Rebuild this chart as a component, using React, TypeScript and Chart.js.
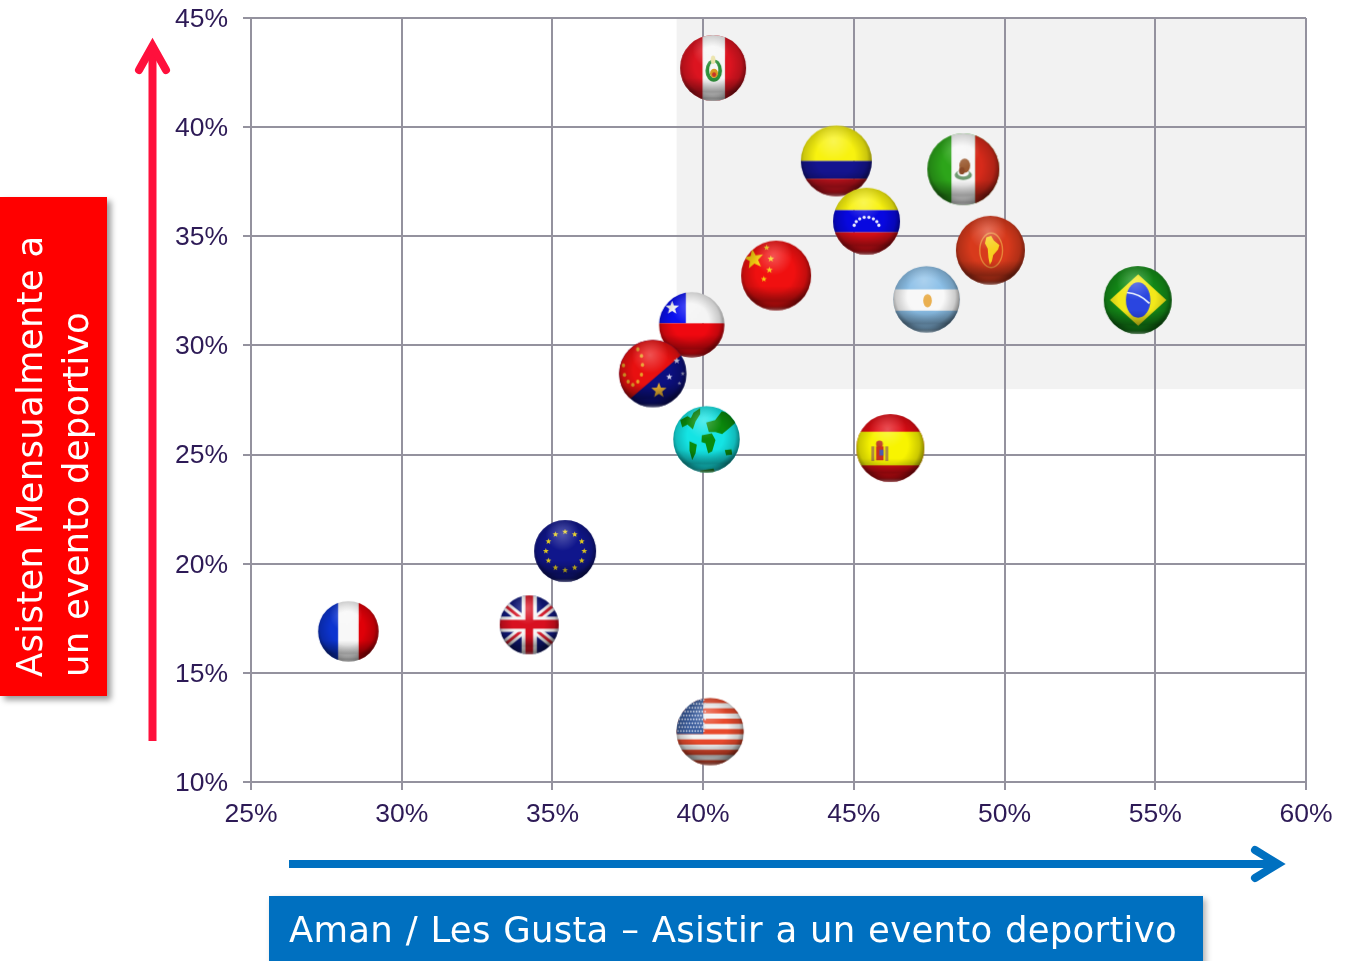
import React, { useEffect, useRef } from "react";
import { Chart, registerables } from "chart.js";

Chart.register(...registerables);

// ---- data (percent) ----
const countries = ["Peru", "Colombia", "Mexico", "Venezuela", "China", "Latam", "Argentina", "Brazil", "Chile", "AsiaPacific", "World", "Spain", "EU", "France", "UK", "USA"];
const interest = [40.33, 44.42, 48.63, 45.42, 42.42, 49.53, 47.41, 54.42, 39.62, 38.33, 40.11, 46.21, 35.42, 28.23, 34.23, 40.23];
const attendance = [42.71, 38.45, 38.07, 35.69, 33.2, 34.36, 32.11, 32.08, 30.94, 28.71, 25.7, 25.3, 20.58, 16.9, 17.2, 12.31];
const xTicks = [25, 30, 35, 40, 45, 50, 55, 60];
const yTicks = [10, 15, 20, 25, 30, 35, 40, 45];
const highlightFromX = 39.12;
const highlightFromY = 28;

const yTitleLines = ["Asisten Mensualmente a", "un evento deportivo"];
const xTitle = "Aman / Les Gusta – Asistir a un evento deportivo";

// ---- marker look ----
const flagRadius: Record<string, number> = {
  Peru: 33, Colombia: 35.5, Mexico: 36, Venezuela: 33.5, China: 35, Latam: 34.5, Argentina: 33.3, Brazil: 34,
  Chile: 32.7, AsiaPacific: 33.7, World: 33.3, Spain: 34, EU: 31, France: 30.3, UK: 29.5, USA: 33.7,
};

type C = CanvasRenderingContext2D;
const box = (c: C, col: string, x0: number, y0: number, x1: number, y1: number) => {
  c.fillStyle = col;
  c.fillRect(x0, y0, x1 - x0, y1 - y0);
};
const star = (c: C, x: number, y: number, R: number, col: string, rot = 0) => {
  c.fillStyle = col;
  c.beginPath();
  for (let i = 0; i < 10; i++) {
    const a = -Math.PI / 2 + rot + (i * Math.PI) / 5;
    const q = i % 2 ? R * 0.42 : R;
    c.lineTo(x + q * Math.cos(a), y + q * Math.sin(a));
  }
  c.closePath();
  c.fill();
};
const poly = (c: C, col: string, pts: number[][]) => {
  c.fillStyle = col;
  c.beginPath();
  pts.forEach((p) => c.lineTo(p[0], p[1]));
  c.closePath();
  c.fill();
};
const oval = (c: C, col: string, x: number, y: number, rx: number, ry: number, rot = 0) => {
  c.fillStyle = col;
  c.beginPath();
  c.ellipse(x, y, rx, ry, rot, 0, Math.PI * 2);
  c.fill();
};

const painters: Record<string, (c: C) => void> = {
  Peru(c) {
    box(c, "#dc1420", -1, -1, 1, 1);
    box(c, "#f6f6f6", -0.32, -1, 0.36, 1);
    oval(c, "#2f8f3a", 0.02, 0.08, 0.25, 0.34);
    oval(c, "#f6f6f6", 0.02, 0.06, 0.14, 0.24);
    oval(c, "#d99a20", 0.03, 0.16, 0.12, 0.14);
    oval(c, "#c8352a", 0.03, 0.2, 0.06, 0.07);
    oval(c, "#e8e0a0", 0.0, -0.25, 0.07, 0.13);
  },
  Colombia(c) {
    box(c, "#f8f20f", -1, -1, 1, 0);
    box(c, "#14148f", -1, 0, 1, 0.5);
    box(c, "#d81420", -1, 0.5, 1, 1);
  },
  Mexico(c) {
    box(c, "#2da51a", -1, -1, 1, 1);
    box(c, "#f6f6f6", -0.33, -1, 0.33, 1);
    box(c, "#d62a1a", 0.33, -1, 1, 1);
    oval(c, "#6f9a70", 0, 0.16, 0.24, 0.14);
    oval(c, "#f6f6f6", 0, 0.1, 0.16, 0.1);
    oval(c, "#9a5a30", 0.04, -0.1, 0.15, 0.2);
    oval(c, "#8a4a28", -0.04, 0.04, 0.08, 0.1);
  },
  Venezuela(c) {
    box(c, "#f8f20f", -1, -1, 1, -0.33);
    box(c, "#0808e0", -1, -0.33, 1, 0.33);
    box(c, "#e01018", -1, 0.33, 1, 1);
    for (let i = 0; i < 8; i++) {
      const a = Math.PI * (1.08 + (i * 0.84) / 7);
      oval(c, "#eef", 0.38 * Math.cos(a), 0.2 + 0.38 * Math.sin(a) * 0.85, 0.05, 0.05);
    }
  },
  China(c) {
    box(c, "#f01010", -1, -1, 1, 1);
    star(c, -0.64, -0.47, 0.3, "#f8d010", -0.15);
    star(c, -0.27, -0.8, 0.09, "#f8d010");
    star(c, -0.15, -0.48, 0.1, "#f8d010");
    star(c, -0.19, -0.16, 0.1, "#f8d010");
    star(c, -0.35, 0.1, 0.09, "#f8d010");
  },
  Latam(c) {
    box(c, "#d83a1c", -1, -1, 1, 1);
    c.strokeStyle = "#e8883a";
    c.lineWidth = 0.04;
    c.beginPath();
    c.ellipse(0.02, 0, 0.33, 0.5, 0, 0, Math.PI * 2);
    c.stroke();
    poly(c, "#f8d020", [[-0.12, -0.38], [0.02, -0.42], [0.1, -0.28], [0.26, -0.15], [0.22, -0.02], [0.08, 0.14], [0.04, 0.32], [-0.02, 0.42], [-0.06, 0.2], [-0.08, -0.05], [-0.16, -0.2]]);
  },
  Argentina(c) {
    box(c, "#8cc0e8", -1, -1, 1, 1);
    box(c, "#f8f8f8", -1, -0.3, 1, 0.34);
    oval(c, "#eab050", 0.03, 0.04, 0.13, 0.2);
  },
  Brazil(c) {
    box(c, "#148c18", -1, -1, 1, 1);
    poly(c, "#f2e81a", [[-0.82, 0], [0.01, -0.76], [0.84, 0], [0.01, 0.76]]);
    oval(c, "#2a45e0", 0.01, 0, 0.36, 0.52);
    c.strokeStyle = "#e8f0ff";
    c.lineWidth = 0.05;
    c.beginPath();
    c.moveTo(-0.32, -0.22);
    c.quadraticCurveTo(0.05, -0.2, 0.34, 0.1);
    c.stroke();
  },
  Chile(c) {
    box(c, "#f4f4f4", -1, -1, 1, -0.05);
    box(c, "#0a10f0", -1, -1, -0.18, -0.05);
    box(c, "#f00810", -1, -0.05, 1, 1);
    star(c, -0.6, -0.52, 0.22, "#ffffff");
  },
  AsiaPacific(c) {
    box(c, "#0c1080", -1, -1, 1, 1);
    poly(c, "#e81010", [[-1.2, -1.2], [1.6, -1.2], [-1.2, 1.2]]);
    const ring = [[113, 208], [124, 228], [127, 255], [124, 284], [113, 305], [98, 315], [84, 305], [73, 285], [70, 256]];
    ring.forEach((p) => oval(c, "#e8a028", (p[0] - 158) / 101, (p[1] - 281) / 101, 0.05, 0.06));
    star(c, 0.18, 0.5, 0.24, "#e8b030");
    star(c, 0.49, 0.1, 0.1, "#d8d8f0");
    star(c, 0.71, -0.38, 0.1, "#d8d8f0");
    star(c, 0.89, 0, 0.07, "#a8a8d0");
    star(c, 0.79, 0.29, 0.06, "#a8a8d0");
  },
  World(c) {
    box(c, "#14e4e4", -1, -1, 1, 1);
    const g = "#0a8a0c";
    const u = (pts: number[][]) => pts.map((p) => [(p[0] - 319) / 100, (p[1] - 478) / 100]);
    poly(c, g, u([[240, 420], [262, 408], [272, 414], [280, 398], [300, 384], [300, 402], [286, 425], [278, 448], [262, 434], [246, 442]]));
    poly(c, g, u([[268, 484], [290, 494], [286, 520], [276, 540], [268, 512]]));
    poly(c, g, u([[305, 466], [335, 460], [346, 480], [336, 514], [324, 520], [316, 490], [304, 486]]));
    poly(c, g, u([[318, 428], [345, 420], [365, 394], [396, 402], [410, 425], [386, 446], [366, 462], [346, 456], [326, 456]]));
    poly(c, g, u([[374, 510], [394, 508], [396, 524], [378, 526]]));
    poly(c, g, u([[300, 572], [340, 566], [350, 590], [300, 590]]));
  },
  Spain(c) {
    box(c, "#e00c14", -1, -1, 1, 1);
    box(c, "#f8f400", -1, -0.48, 1, 0.51);
    oval(c, "#c04028", -0.32, -0.12, 0.1, 0.1);
    box(c, "#c83020", -0.42, -0.05, -0.2, 0.36);
    box(c, "#4a5ab0", -0.32, 0.05, -0.2, 0.22);
    box(c, "#b08a40", -0.56, -0.05, -0.47, 0.38);
    box(c, "#b08a40", -0.15, -0.05, -0.06, 0.38);
  },
  EU(c) {
    box(c, "#10168c", -1, -1, 1, 1);
    for (let i = 0; i < 12; i++) {
      const a = (i * Math.PI) / 6;
      star(c, 0.62 * Math.cos(a), 0.62 * Math.sin(a), 0.1, "#e8d020");
    }
  },
  France(c) {
    box(c, "#0c34d0", -1, -1, -0.33, 1);
    box(c, "#f8f8f8", -0.33, -1, 0.34, 1);
    box(c, "#e00008", 0.34, -1, 1, 1);
  },
  UK(c) {
    box(c, "#10187c", -1, -1, 1, 1);
    c.lineCap = "butt";
    const diag = (col: string, w: number) => {
      c.strokeStyle = col;
      c.lineWidth = w;
      c.beginPath();
      c.moveTo(-1, -0.8);
      c.lineTo(1, 0.8);
      c.moveTo(-1, 0.8);
      c.lineTo(1, -0.8);
      c.stroke();
    };
    diag("#f6f6f6", 0.3);
    diag("#d82030", 0.1);
    box(c, "#f6f6f6", -0.26, -1, 0.26, 1);
    box(c, "#f6f6f6", -1, -0.28, 1, 0.24);
    box(c, "#d81020", -0.13, -1, 0.13, 1);
    box(c, "#d81020", -1, -0.17, 1, 0.13);
  },
  USA(c) {
    box(c, "#f4f4f4", -1, -1, 1, 1);
    for (let i = 0; i < 13; i += 2) box(c, "#e84a2c", -1, -1 + (i * 2) / 13, 1, -1 + ((i + 1) * 2) / 13);
    box(c, "#3a5c9c", -1, -1, -0.2, 0.07);
    for (let row = 0; row < 9; row++)
      for (let col = 0; col < 10; col++)
        oval(c, "#dfe6f6", -0.95 + col * 0.085 + (row % 2 ? 0.04 : 0), -0.94 + row * 0.115, 0.025, 0.025);
  },
};

const makeFlag = (name: string) => {
  const r = flagRadius[name];
  const pad = 1;
  const size = Math.ceil(r * 2 + pad * 2);
  const cv = document.createElement("canvas");
  cv.width = size;
  cv.height = size;
  const c = cv.getContext("2d") as C;
  c.translate(size / 2, size / 2);
  c.scale(r, r);
  c.beginPath();
  c.arc(0, 0, 1, 0, Math.PI * 2);
  c.clip();
  painters[name](c);
  // sphere shading
  let g = c.createRadialGradient(-0.03, -0.1, 0.55, -0.03, -0.1, 1.12);
  g.addColorStop(0, "rgba(0,0,0,0)");
  g.addColorStop(0.6, "rgba(0,0,0,0.18)");
  g.addColorStop(1, "rgba(0,0,0,0.6)");
  c.fillStyle = g;
  c.fillRect(-1.1, -1.1, 2.2, 2.2);
  g = c.createLinearGradient(0, 0.3, 0, 1);
  g.addColorStop(0, "rgba(0,0,0,0)");
  g.addColorStop(0.6, "rgba(0,0,0,0.28)");
  g.addColorStop(0.82, "rgba(0,0,0,0.1)");
  g.addColorStop(1, "rgba(255,255,255,0.38)");
  c.fillStyle = g;
  c.fillRect(-1.1, 0.3, 2.2, 0.8);
  g = c.createRadialGradient(-0.08, -0.55, 0, -0.08, -0.55, 0.55);
  g.addColorStop(0, "rgba(255,255,255,0.28)");
  g.addColorStop(1, "rgba(255,255,255,0)");
  c.fillStyle = g;
  c.fillRect(-1.1, -1.1, 2.2, 2.2);
  return cv;
};

const GRID = "#94929e";
const LABEL = "#2d1a56";
const RED = "#ff103c";
const BLUE = "#0070c0";
const TITLE_FONT = "'DejaVu Sans', sans-serif";

const shade = {
  id: "shade",
  beforeDraw(chart: any) {
    const { ctx, scales, chartArea } = chart;
    const x = scales.x.getPixelForValue(highlightFromX);
    const y = scales.y.getPixelForValue(highlightFromY);
    ctx.save();
    ctx.fillStyle = "#f2f2f2";
    ctx.fillRect(x, chartArea.top, chartArea.right - x, y - chartArea.top);
    ctx.restore();
  },
};

const axis = (min: number, max: number, ticks: number[], extent: (s: any) => void, padding: number, labelOffset: number) => ({
  type: "linear",
  min,
  max,
  afterFit: (s: any) => {
    extent(s);
    s.paddingTop = 0;
    s.paddingBottom = 0;
    s.paddingLeft = 0;
    s.paddingRight = 0;
  },
  afterBuildTicks: (s: any) => {
    s.ticks = ticks.map((value) => ({ value }));
  },
  grid: { color: GRID, lineWidth: 2, tickLength: 8, tickColor: GRID, drawTicks: true },
  border: { color: GRID, width: 2 },
  ticks: {
    color: LABEL,
    font: { family: "'Liberation Sans', Arial, sans-serif", size: 26.5 },
    padding,
    labelOffset,
    maxRotation: 0,
    autoSkip: false,
    callback: (v: number) => `${v}%`,
  },
});

export default function App() {
  const ref = useRef<HTMLCanvasElement>(null);
  useEffect(() => {
    const chart = new Chart(ref.current as HTMLCanvasElement, {
      type: "scatter",
      data: {
        datasets: [
          {
            data: countries.map((_, i) => ({ x: interest[i], y: attendance[i] })),
            pointStyle: countries.map(makeFlag),
            pointRadius: countries.map((n) => flagRadius[n]),
            pointHoverRadius: countries.map((n) => flagRadius[n]),
            clip: false,
          } as any,
        ],
      },
      options: {
        responsive: false,
        animation: false,
        layout: { autoPadding: false, padding: { top: 18, right: 40, left: 0, bottom: 0 } },
        plugins: { legend: { display: false }, tooltip: { enabled: false } },
        scales: {
          x: axis(25, 60, xTicks, (s: any) => { s.height = 179; }, 9, 0),
          y: axis(10, 45, yTicks, (s: any) => { s.width = 251; }, 15, 1.5),
        },
      } as any,
      plugins: [shade],
    });
    return () => chart.destroy();
  }, []);

  return (
    <div style={{ position: "absolute", left: 0, top: 0, width: 1346, height: 961, overflow: "hidden", background: "#fff" }}>
      <canvas ref={ref} width={1346} height={961} style={{ position: "absolute", left: 0, top: 0, display: "block" }} />
      <svg width={1346} height={961} style={{ position: "absolute", left: 0, top: 0 }}>
        <line x1={152.5} y1={741} x2={152.5} y2={50} stroke={RED} strokeWidth={8} />
        <polyline points="139,70 152.5,46 166,70" fill="none" stroke={RED} strokeWidth={8} strokeLinecap="round" strokeLinejoin="miter" strokeMiterlimit={6} />
        <line x1={289} y1={864} x2={1275} y2={864} stroke={BLUE} strokeWidth={8} />
        <polyline points="1255,850 1278,864 1255,878" fill="none" stroke={BLUE} strokeWidth={8} strokeLinecap="round" strokeLinejoin="miter" strokeMiterlimit={6} />
      </svg>
      <div style={{ position: "absolute", left: 0, top: 197, width: 107, height: 499, background: "#ff0000", boxShadow: "4px 4px 6px rgba(0,0,0,0.4)" }}>
        <div style={{ position: "absolute", left: 7, top: 480, width: 460, transform: "rotate(-90deg)", transformOrigin: "0 0", color: "#fff", fontFamily: TITLE_FONT, fontSize: 35.5, letterSpacing: 0.25, lineHeight: "46px", whiteSpace: "nowrap" }}>
          {yTitleLines.map((l) => (
            <div key={l}>{l}</div>
          ))}
        </div>
      </div>
      <div style={{ position: "absolute", left: 269, top: 896, width: 934, height: 70, background: BLUE, boxShadow: "3px 3px 6px rgba(0,0,0,0.3)" }}>
        <div style={{ position: "absolute", left: 20, top: 10, color: "#fff", fontFamily: TITLE_FONT, fontSize: 35.5, letterSpacing: 0.25, wordSpacing: 1, lineHeight: "48px", whiteSpace: "nowrap" }}>{xTitle}</div>
      </div>
    </div>
  );
}
